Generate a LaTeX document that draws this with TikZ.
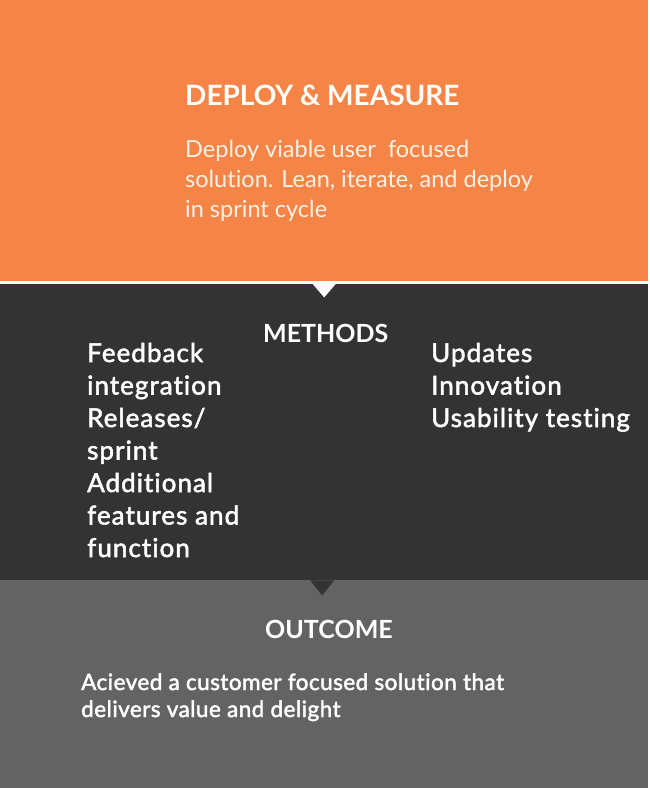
\documentclass[tikz,border=0pt]{standalone}
\usepackage{fontspec}
\setmainfont{Lato}[Ligatures=NoCommon]
\newfontfamily\medfont{Lato}[FakeBold=2, LetterSpace=4, Ligatures=NoCommon]
\newfontfamily\outfont{Lato}[FakeBold=2, LetterSpace=2, Ligatures=NoCommon]
\usetikzlibrary{positioning, calc}
\definecolor{cDeploy}{HTML}{F58546}
\definecolor{cMethods}{HTML}{333333}
\definecolor{cOutcome}{HTML}{636363}
\definecolor{cText}{HTML}{FFFFFF}
\definecolor{cTextSoft}{HTML}{FDF0E6}
\definecolor{cRule}{HTML}{FFFFFF}

\begin{document}
\begin{tikzpicture}[
    x=1pt, y=-1pt,
    % Band styles
    band/.style={rectangle, draw=none, minimum width=648pt, inner sep=0pt, anchor=north west},
    % Text styles
    heading/.style={inner sep=0pt, anchor=base west, text=cText, font=\bfseries\fontsize{25}{30}\selectfont},
    big_heading/.style={heading, font=\bfseries\fontsize{28}{34}\selectfont},
    deploy_line/.style={inner sep=0pt, anchor=base west, text=cTextSoft, font=\fontsize{23.5}{30}\selectfont},
    item/.style={inner sep=0pt, anchor=base west, text=cText, font=\medfont\fontsize{26}{32}\selectfont},
    outcome_line/.style={inner sep=0pt, anchor=base west, text=cText, font=\outfont\fontsize{22.5}{27}\selectfont}
]
\useasboundingbox (0,0) rectangle (650,788);

% --- BANDS ---
\node[band, fill=cDeploy, minimum height=282pt] (deploy) at (0,0) {};
\node[band, fill=cMethods, minimum height=296pt] (methods) at (0,284) {};
\node[band, fill=cOutcome, minimum height=208pt] (outcome) at (0,580) {};
\draw[cRule, line width=2pt] (deploy.south west) -- (deploy.south east);

% Pointers between bands
\fill[cRule] ([xshift=-12pt, yshift=-1pt]deploy.south) -- ([xshift=12pt, yshift=-1pt]deploy.south) -- ([yshift=-15pt]deploy.south) -- cycle;
\fill[cMethods] ([xshift=-14pt]methods.south) -- ([xshift=10pt]methods.south) -- ([xshift=-2pt, yshift=-15pt]methods.south) -- cycle;

% --- DEPLOY & MEASURE ---
\node[big_heading] (deploy_title) at (185,105) {DEPLOY \& MEASURE};
\foreach \txt [count=\i] in {Deploy viable user\ \ focused, {solution. Lean, iterate, and deploy}, in sprint cycle} {
    \node[deploy_line] (deploy\i) at (185, {157+30*(\i-1)}) {\txt};
}

% --- METHODS ---
\node[heading] (methods_title) at (263,342) {METHODS};
\foreach \txt [count=\i] in {Feedback, integration, Releases/, sprint, Additional, features and, function} {
    \node[item] (left\i) at (87, {362+32.5*(\i-1)}) {\txt};
}
\foreach \txt [count=\i] in {Updates, Innovation, Usability testing} {
    \node[item] (right\i) at (431, {362+32.5*(\i-1)}) {\txt};
}

% --- OUTCOME ---
\node[heading] (outcome_title) at (265,638) {OUTCOME};
\node[outcome_line] (outcome1) at (81,690) {Acieved a customer focused solution that};
\node[outcome_line] (outcome2) at (81,717) {delivers value and delight};

\end{tikzpicture}
\end{document}
